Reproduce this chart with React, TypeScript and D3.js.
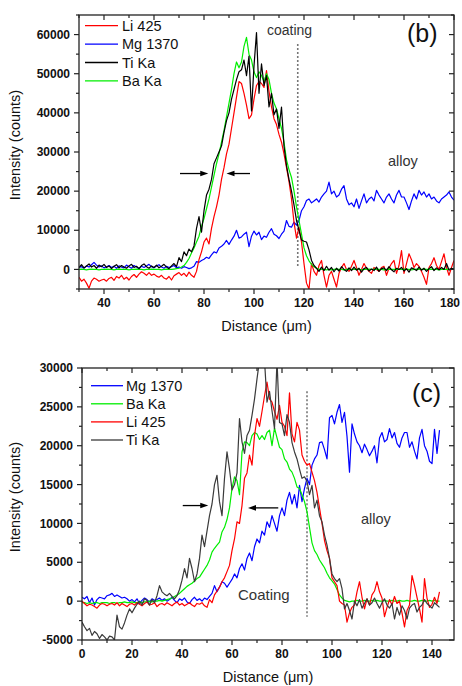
import React from 'react';
import * as d3 from 'd3';

const FONT = '"Liberation Sans", Arial, Helvetica, sans-serif';

// ---------- Panel (b) ----------
const bDistance = d3.range(30, 181);
const bLi = [
  -2000, -3000, -2500, -3500, -4800, -3000, -2200, -2500, -3000, -2700,
  -2500, -3000, -2300, -2000, -2800, -1800, -2200, -1500, -2500, -2000,
  -2700, -1800, -1300, -2000, -1200, -600, -1000, -1500, -800, -1500,
  -1200, -1700, -2000, -1500, -2200, -2500, -1800, -2700, -1600, -1200,
  -800, -1500, -1000, -1800, -700, -1500, -2000, -500, 2500, 4500,
  7000, 8000, 6500, 10500, 13500, 16000, 19000, 23000, 26000, 29500,
  32000, 36000, 40000, 44000, 48000, 47500, 45000, 42000, 38500, 39500,
  43500, 47000, 48000, 47500, 46500, 50800, 45500, 41500, 38500, 37000,
  34500, 32500, 29500, 26000, 22500, 18000, 12000, 8000, 10800, 7000,
  1500, -3500, -5000, 1500, -500, -1500, 1000, 2300, -1500, -4500,
  -1500, -500, -2500, -4500, -1000, 500, 1500, 0, -500, 800,
  2300, 500, -1500, 0, 1500, 300, -500, -1000, 500, 0,
  -500, 500, 800, -1500, 300, 1500, 2300, -1000, 1000, 4800,
  -1000, 1500, 4000, 2500, 500, 1500, 800, -500, -2000, -3800,
  500, 1500, 3000, 1000, 0, 2000, 4000, 500, -1500, 500, 2300,
];
const bMg = [
  500, 700, 300, 900, 600, 1200, 1800, 1100, 600, 900,
  400, 700, 1000, 500, 800, 300, 900, 600, 400, 1100,
  700, 300, 1000, 600, 200, 800, 500, 900, 1300, 700,
  400, 900, 1200, 600, 300, 800, 500, 700, 1000, 400,
  600, 300, 700, 500, 200, 400, 800, 2000, 1800, 2300,
  2600, 3100, 2800, 3700, 4500, 4200, 5500, 5900, 6500, 7400,
  6400, 7500, 8500, 10000, 8000, 8300, 9000, 9500, 5800, 8500,
  9800, 8800, 9500, 7600, 8500, 8200, 9500, 10400, 9000, 8600,
  7900, 9000, 9800, 12500, 11000, 10800, 12100, 11300, 12500, 15000,
  16000, 17600, 18000, 17000, 17500, 18000, 17200, 18500, 19300, 20000,
  22300, 19300, 20000, 18500, 19000, 20500, 21400, 18000, 16500, 17000,
  16000, 18000, 15600, 17500, 19300, 17000, 18000, 18500, 17500, 20200,
  19000, 18000, 17000, 18500, 19300, 18000, 17000, 19000, 20200, 18500,
  18500, 17000, 15300, 17500, 19300, 18000, 20200, 19000, 19800, 18500,
  19300, 18000, 18500, 17500, 17000, 18000, 18500, 19000, 19800, 18500, 17700,
];
const bTi = [
  500, 1200, 400, 900, 1400, 600, 1000, 300, 1100, 700,
  1300, 500, 900, 200, 800, 1200, 400, 1000, 600, 300,
  900, 1300, 500, 800, 200, 1000, 1400, 700, 300, 900,
  500, 1100, 400, 800, 1300, 600, 200, 900, 1500, 700,
  3000, 2000, 4500, 3500, 5200, 4500, 6000, 10500, 13500, 9500,
  15000, 19000, 20500, 23000, 27000, 28500, 30000, 31500, 35000, 38000,
  40000, 43500, 46000, 48500, 50500, 51000, 53500, 49500, 54500, 40500,
  52000, 60500, 45000, 52500, 47000, 49500, 41500, 45000, 39500, 41000,
  36000, 41500, 31500, 26500, 23000, 20000, 16500, 12500, 10000, 7500,
  7200, 7000, 5000, 2300, 1000, 300, -500, 600, -300, 800,
  -200, 500, -600, 300, -400, 700, 0, -500, 400, -300,
  600, -200, 300, -700, 200, 500, -400, 100, -300, 600,
  -500, 200, 400, -300, 700, -100, -600, 300, 0, 500,
  -400, 200, -700, 400, 100, -300, 600, -200, 300, -500,
  200, 700, -300, 400, -100, 500, 0, 1500, -200, 300, 100,
];
const bBa = [
  0, 100, 0, -100, 0, 100, 0, 0, -100, 0,
  0, 100, 0, 0, -100, 0, 100, 0, 0, 0,
  -100, 0, 0, 100, 0, 0, -100, 0, 0, 100,
  0, 0, 0, -100, 0, 100, 0, 0, 100, 200,
  300, 600, 1000, 1800, 2800, 4200, 5500, 7000, 8500, 11000,
  13000, 15500, 18000, 21000, 24000, 27000, 29500, 32500, 35500, 39000,
  42500, 46000, 50000, 53000, 51500, 53000, 57000, 59300, 55000, 53500,
  50500, 49000, 50500, 49500, 48000, 50000, 48500, 45000, 42500, 41000,
  38500, 36000, 32500, 28000, 25500, 23500, 20000, 16000, 12500, 9000,
  5500, 3500, 2200, 1300, 700, 300, 100, 0, 0, -100,
  0, -100, 0, 100, 0, 0, -100, 0, 100, 0,
  0, 100, 0, -100, 0, 0, 100, 0, 0, 100,
  0, 0, -100, 0, 100, 0, 0, 100, 0, 0,
  100, 0, 0, -100, 0, 100, 0, 0, 100, 0,
  0, 100, 0, 0, -100, 0, 100, 0, 0, 100, 0,
];
const bXTicks = [40, 60, 80, 100, 120, 140, 160, 180];
const bXMinor = [30, 50, 70, 90, 110, 130, 150, 170];
const bYTicks = [0, 10000, 20000, 30000, 40000, 50000, 60000];
const bYMinor = [-5000, 5000, 15000, 25000, 35000, 45000, 55000, 65000];

// ---------- Panel (c) ----------
const cDistance = d3.range(0, 144);
const cMg = [
  500, 300, 600, -200, 400, -500, 200, 500, 400, 300,
  700, 800, 1000, 600, 800, 600, 400, 500, 300, 0,
  200, -100, 300, -300, 100, 400, 200, -100, 300, 100,
  200, 400, 100, 300, 0, 200, 500, 100, -200, 300,
  100, 400, -100, -300, 200, 500, 100, 300, 0, 400,
  200, 600, 1000, 2000, 1200, 1800, 2500, 2300, 1800, 2300,
  2800, 3500, 3000, 4200, 4800, 4000, 5500, 6200, 5200, 7000,
  8000, 7500, 9000, 8500, 10200, 9500, 11000, 10000, 9000, 11000,
  12000, 11000, 13000, 14000, 12500, 13700, 12000, 14900, 12800, 14500,
  15800, 15000, 17500, 18300, 18800, 20400, 20500, 19500, 18300, 23600,
  23900, 22800, 24300, 25300, 23000, 24300, 21200, 16600, 22800, 21500,
  20500, 20000, 19100, 20200, 19500, 18700, 19300, 20000, 17800, 21000,
  21700, 20500, 20800, 22200, 21000, 21700, 20300, 19800, 21000, 21700,
  21700, 19800, 20500, 19300, 18300, 21000, 22100, 20000, 19300, 18000,
  17700, 22100, 19000, 22000,
];
const cBa = [
  -200, -200, -300, -200, -300, -200, -200, -300, -200, -200,
  -200, -300, -200, -200, -300, -200, -200, -100, -200, -200,
  -100, -200, -200, -100, -200, -100, -100, 0, -100, 0,
  0, 100, 0, 100, 200, 300, 400, 600, 800, 1000,
  1300, 1600, 1900, 2100, 2300, 2600, 2900, 3100, 3600, 4100,
  4600, 5300, 6300, 6800, 7200, 7600, 8900, 9500, 10500, 12000,
  14500, 16000, 15500, 13700, 19200, 20500, 20400, 20000, 21300, 21700,
  21500, 20800, 21300, 20800, 21700, 22000, 20000, 22300, 21000, 19800,
  19500, 18300, 17900, 17000, 16600, 15800, 14700, 14500, 13700, 12800,
  11500, 9500, 7500, 6500, 6000, 5300, 4800, 4300, 3600, 3000,
  2600, 2200, 1500, 800, 400, 100, 0, -100, 0, 0,
  100, 0, 0, 100, 0, 0, 100, 0, 100, 0,
  0, 100, 0, 0, 100, 0, 0, 100, 0, 0,
  100, 0, 0, 100, 0, 0, 100, 0, 0, 100,
  0, 100, 0, 0,
];
const cLi = [
  0, -300, -600, -400, -500, -700, -900, -500, -300, -400,
  -600, -400, -300, -500, -200, -600, -300, -500, -700, -400,
  -300, -500, -200, -400, -600, -300, -100, -500, -400, -200,
  -700, -400, -300, -500, -200, -400, -600, -300, -100, -500,
  -300, -600, -400, -200, -500, -700, -300, -400, -200, -600,
  -800, 200, -200, 800, 1300, 1800, 2500, 3000, 3800, 4600,
  6500, 8000, 10200, 10000, 12300, 15800, 16500, 18800, 17500, 21300,
  23500, 22500, 24400, 26400, 28200, 26000, 25600, 24400, 23400, 25200,
  23000, 22500, 21300, 26800, 21500, 20500, 23000, 22000, 18800, 18000,
  17500, 17700, 16600, 15500, 14000, 12000, 10000, 7800, 6500, 5500,
  3000, 2500, 2000, 0, -300, -500, -2700, -1500, -800, -500,
  1200, 2500, 500, -1000, 300, -500, 800, 1300, 2500, 1200,
  400, -2000, -800, 200, -500, 600, -300, 0, -1500, -3300,
  -1200, -500, 3300, 2000, 500, -1000, -2700, 2900, 400, -800,
  -400, 500, -300, 1200,
];
const cTi = [
  -2700, -3300, -3800, -3500, -4400, -3900, -4200, -4800, -4300, -4600,
  -5000, -4500, -4600, -5000, -1800, -3300, -3600, -2800, -1800, -1000,
  -1500, -900, -400, 0, -500, 300, 100, -500, 200, -200,
  700, 2000, 1200, 900, 700, 1000, 600, 300, 700, 1500,
  2700, 4200, 3000, 5500, 4200, 2500, 3500, 5500, 8500, 7000,
  9000, 11000, 12500, 15000, 16200, 12800, 11000, 15800, 19200, 17000,
  14300, 15000, 16500, 23500, 20500, 19000, 21300, 22000, 23900, 26000,
  28600, 31000, 30500, 31000, 25600, 27000, 24500, 22200, 31000, 23000,
  22800, 21300, 24000, 23000, 20400, 19200, 18300, 17000, 15800, 16000,
  15400, 13700, 14900, 12000, 13000, 11000, 10200, 8500, 7200, 5500,
  3500, 2900, 2500, 2900, 1600, -1000, -300, -1200, -2300, 0,
  -600, 200, -900, -300, 300, -500, -200, 400, -300, -900,
  -200, 300, -500, -900, -300, -2300, -800, -1800, -600, -1200,
  -2300, -900, -500, -300, -1400, -800, -500, 200, -300, -600,
  -900, -200, -500, -800,
];
const cXTicks = [0, 20, 40, 60, 80, 100, 120, 140];
const cXMinor = [10, 30, 50, 70, 90, 110, 130];
const cYTicks = [-5000, 0, 5000, 10000, 15000, 20000, 25000, 30000];
const cYMinor = [-2500, 2500, 7500, 12500, 17500, 22500, 27500];

type Series = { name: string; values: number[]; color: string };
type Arrow = { from: [number, number]; to: [number, number] };
type Label = { text: string; x: number; y: number; size: number; color?: string };

interface PanelProps {
  id: string;
  x: number[];
  xDomain: [number, number];
  yDomain: [number, number];
  box: { left: number; right: number; top: number; bottom: number };
  plotOrder: Series[];
  legend: Series[];
  legendPos: { x1: number; x2: number; tx: number; y0: number; dy: number };
  xTicks: number[];
  xMinor: number[];
  yTicks: number[];
  yMinor: number[];
  yTitleY: number;
  dotted: { x: number; y1: number; y2: number };
  arrows: Arrow[];
  labels: Label[];
}

function Panel(p: PanelProps) {
  const xs = d3.scaleLinear().domain(p.xDomain).range([p.box.left, p.box.right]);
  const ys = d3.scaleLinear().domain(p.yDomain).range([p.box.bottom, p.box.top]);
  const { left, right, top, bottom } = p.box;
  const axisColor = '#222';
  const major = 5;
  const minor = 3;
  const line = (vals: number[]) =>
    d3
      .line<number>()
      .x((_, i) => xs(p.x[i]))
      .y((v) => ys(v))(vals) || '';
  const inX = (v: number) => v >= p.xDomain[0] - 1e-6 && v <= p.xDomain[1] + 1e-6;
  const inY = (v: number) => v >= p.yDomain[0] - 1e-6 && v <= p.yDomain[1] + 1e-6;
  const arrowHead = (a: Arrow) => {
    const x1 = xs(a.from[0]);
    const y1 = ys(a.from[1]);
    const x2 = xs(a.to[0]);
    const y2 = ys(a.to[1]);
    const dir = Math.sign(x2 - x1);
    const hl = 8;
    const hw = 2.8;
    return (
      <g>
        <line x1={x1} y1={y1} x2={x2 - dir * hl + dir} y2={y2} stroke="#000" strokeWidth={1.3} />
        <polygon
          points={`${x2},${y2} ${x2 - dir * hl},${y2 - hw} ${x2 - dir * hl},${y2 + hw}`}
          fill="#000"
        />
      </g>
    );
  };
  return (
    <g>
      <defs>
        <clipPath id={`clip-${p.id}`}>
          <rect x={left} y={top} width={right - left} height={bottom - top} />
        </clipPath>
      </defs>
      <line
        x1={xs(p.dotted.x)}
        x2={xs(p.dotted.x)}
        y1={ys(p.dotted.y1)}
        y2={ys(p.dotted.y2)}
        stroke="#777"
        strokeWidth={1.6}
        strokeDasharray="2,2"
      />
      <g clipPath={`url(#clip-${p.id})`}>
        {p.plotOrder.map((s) => (
          <path key={s.name} d={line(s.values)} fill="none" stroke={s.color} strokeWidth={1.2} strokeLinejoin="round" />
        ))}
      </g>
      <rect x={left} y={top} width={right - left} height={bottom - top} fill="none" stroke={axisColor} strokeWidth={1.3} />
      {p.xTicks.filter(inX).map((t) => (
        <g key={`xt${t}`}>
          <line x1={xs(t)} x2={xs(t)} y1={bottom} y2={bottom + major} stroke={axisColor} strokeWidth={1.2} />
          <line x1={xs(t)} x2={xs(t)} y1={top} y2={top + major} stroke={axisColor} strokeWidth={1.2} />
          <text
            x={Math.min(xs(t), 450)}
            y={bottom + 18}
            textAnchor="middle"
            fontSize={12}
            fontWeight="bold"
            fill="#111"
            fontFamily={FONT}
          >
            {t}
          </text>
        </g>
      ))}
      {p.xMinor.filter(inX).map((t) => (
        <g key={`xm${t}`}>
          <line x1={xs(t)} x2={xs(t)} y1={bottom} y2={bottom + minor} stroke={axisColor} strokeWidth={1.2} />
          <line x1={xs(t)} x2={xs(t)} y1={top} y2={top + minor} stroke={axisColor} strokeWidth={1.2} />
        </g>
      ))}
      {p.yTicks.filter(inY).map((t) => (
        <g key={`yt${t}`}>
          <line x1={left - major} x2={left} y1={ys(t)} y2={ys(t)} stroke={axisColor} strokeWidth={1.2} />
          <line x1={right - major} x2={right} y1={ys(t)} y2={ys(t)} stroke={axisColor} strokeWidth={1.2} />
          <text x={left - 9} y={ys(t)} dy="0.35em" textAnchor="end" fontSize={12} fontWeight="bold" fill="#111" fontFamily={FONT}>
            {t}
          </text>
        </g>
      ))}
      {p.yMinor.filter(inY).map((t) => (
        <g key={`ym${t}`}>
          <line x1={left - minor} x2={left} y1={ys(t)} y2={ys(t)} stroke={axisColor} strokeWidth={1.2} />
          <line x1={right - minor} x2={right} y1={ys(t)} y2={ys(t)} stroke={axisColor} strokeWidth={1.2} />
        </g>
      ))}
      <text x={(left + right) / 2} y={bottom + 42} textAnchor="middle" fontSize={14.5} fill="#111" fontFamily={FONT}>
        Distance (μm)
      </text>
      <text
        transform={`translate(19.5,${p.yTitleY}) rotate(-90)`}
        textAnchor="middle"
        fontSize={14.5}
        fill="#111"
        fontFamily={FONT}
      >
        Intensity (counts)
      </text>
      {p.legend.map((s, i) => {
        const y = p.legendPos.y0 + i * p.legendPos.dy;
        return (
          <g key={`lg${s.name}`}>
            <line x1={p.legendPos.x1} x2={p.legendPos.x2} y1={y} y2={y} stroke={s.color} strokeWidth={1.3} />
            <text x={p.legendPos.tx} y={y} dy="0.36em" fontSize={14.5} fill="#111" fontFamily={FONT}>
              {s.name}
            </text>
          </g>
        );
      })}
      {p.arrows.map((a, i) => (
        <g key={`ar${i}`}>{arrowHead(a)}</g>
      ))}
      {p.labels.map((l, i) => (
        <text key={`lb${i}`} x={l.x} y={l.y} fontSize={l.size} fill={l.color || '#333'} fontFamily={FONT}>
          {l.text}
        </text>
      ))}
    </g>
  );
}

export default function App() {
  const RED = '#ff0000';
  const BLUE = '#0000ff';
  const GREEN = '#00ee00';
  const bLiS = { name: 'Li 425', values: bLi, color: RED };
  const bMgS = { name: 'Mg 1370', values: bMg, color: BLUE };
  const bTiS = { name: 'Ti Ka', values: bTi, color: '#000000' };
  const bBaS = { name: 'Ba Ka', values: bBa, color: GREEN };
  const cMgS = { name: 'Mg 1370', values: cMg, color: BLUE };
  const cBaS = { name: 'Ba Ka', values: cBa, color: GREEN };
  const cLiS = { name: 'Li 425', values: cLi, color: RED };
  const cTiS = { name: 'Ti Ka', values: cTi, color: '#3a3a3a' };
  return (
    <svg
      width={462}
      height={686}
      style={{ position: 'absolute', left: 0, top: 0, background: '#fff' }}
      xmlns="http://www.w3.org/2000/svg"
    >
      <rect x={0} y={0} width={462} height={686} fill="#fff" />
      <Panel
        id="b"
        x={bDistance}
        xDomain={[30, 180]}
        yDomain={[-5000, 65000]}
        box={{ left: 79, right: 454, top: 15, bottom: 289 }}
        plotOrder={[bMgS, bLiS, bBaS, bTiS]}
        legend={[bLiS, bMgS, bTiS, bBaS]}
        legendPos={{ x1: 85, x2: 118, tx: 122, y0: 25.7, dy: 18.4 }}
        xTicks={bXTicks}
        xMinor={bXMinor}
        yTicks={bYTicks}
        yMinor={bYMinor}
        yTitleY={145}
        dotted={{ x: 117.5, y1: 57600, y2: 600 }}
        arrows={[
          { from: [70.4, 24500], to: [81.7, 24500] },
          { from: [98.4, 24500], to: [89, 24500] },
        ]}
        labels={[
          { text: 'coating', x: 267, y: 35, size: 14 },
          { text: '(b)', x: 407, y: 42, size: 25, color: '#111' },
          { text: 'alloy', x: 388, y: 166, size: 14.5 },
        ]}
      />
      <Panel
        id="c"
        x={cDistance}
        xDomain={[0, 148.8]}
        yDomain={[-5000, 30000]}
        box={{ left: 82, right: 454, top: 368, bottom: 640 }}
        plotOrder={[cMgS, cBaS, cLiS, cTiS]}
        legend={[cMgS, cBaS, cLiS, cTiS]}
        legendPos={{ x1: 91, x2: 123, tx: 126, y0: 385.7, dy: 18.1 }}
        xTicks={cXTicks}
        xMinor={cXMinor}
        yTicks={cYTicks}
        yMinor={cYMinor}
        yTitleY={497}
        dotted={{ x: 90, y1: 27000, y2: -2000 }}
        arrows={[
          { from: [40.3, 12300], to: [50.5, 12300] },
          { from: [78.5, 12000], to: [66.4, 12000] },
        ]}
        labels={[
          { text: '(c)', x: 412, y: 402, size: 25, color: '#111' },
          { text: 'alloy', x: 361, y: 524, size: 14.5 },
          { text: 'Coating', x: 238, y: 600, size: 15 },
        ]}
      />
    </svg>
  );
}
